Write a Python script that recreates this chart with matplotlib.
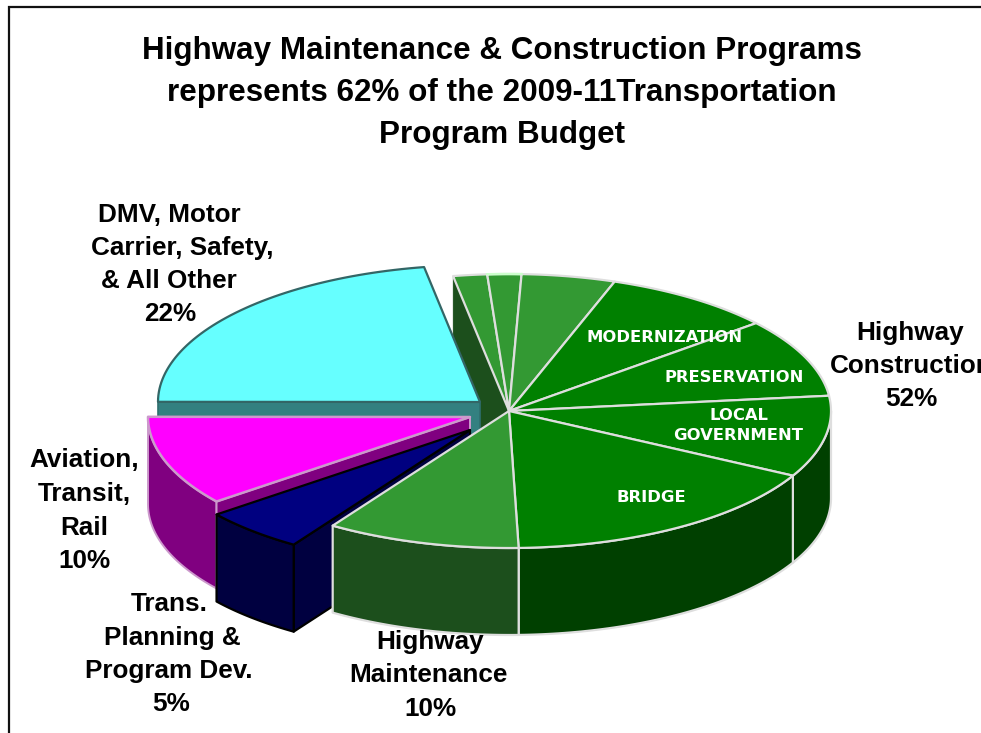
import numpy as np
import matplotlib
matplotlib.use("Agg")
import matplotlib.pyplot as plt
from matplotlib.patches import Polygon

plt.rcParams["font.family"] = ["Liberation Sans", "DejaVu Sans"]

# slice shares in percent, clockwise from the top left of the green group
slice_names = ["Other A", "Other B", "Other C", "Modernization", "Preservation", "Local Government",
               "Bridge", "Highway Maintenance", "Trans. Planning", "Aviation", "DMV"]
slice_values = [1.7, 1.7, 4.7, 8.6, 9.3, 9.6, 16.7, 9.7, 5.2, 10.6, 22.2]
title_lines = ["Highway Maintenance & Construction Programs",
               "represents 62% of the 2009-11Transportation",
               "Program Budget"]

START = 100.0
RX, RY, DEPTH = 322, 137, 87
CENTERS = {"main": (509, 411), "DMV": (480, 402), "Aviation": (470, 417), "Trans. Planning": (470, 430)}

DARK_EDGE = "#dedede"
TOP = {"Other A": "#339933", "Other B": "#339933", "Other C": "#339933", "Highway Maintenance": "#339933",
       "Modernization": "#008000", "Preservation": "#008000", "Local Government": "#008000", "Bridge": "#008000"}
SIDE = {"Highway Maintenance": "#1c4f1c", "Bridge": "#004000", "Local Government": "#004000"}

angles = START - np.cumsum([0] + slice_values) * 3.6
spans = {n: (angles[i], angles[i + 1]) for i, n in enumerate(slice_names)}


def arc(center, t0, t1, drop=0, n=60):
    t = np.radians(np.linspace(t0, t1, n))
    return np.c_[center[0] + RX * np.cos(t), center[1] - RY * np.sin(t) + drop]


def wedge(center, t0, t1):
    return np.vstack([[center], arc(center, t0, t1)])


def side(center, t0, t1):
    return np.vstack([arc(center, t0, t1), arc(center, t1, t0, DEPTH)])


def face(center, t):
    rim = arc(center, t, t, n=1)[0]
    return [center, rim, rim + [0, DEPTH], (center[0], center[1] + DEPTH)]


fig = plt.figure(figsize=(9.81, 7.33), dpi=100)
ax = fig.add_axes([0, 0, 1, 1])
ax.set(xlim=(0, 981), ylim=(733, 0))
ax.axis("off")


def poly(points, color, edge=None, lw=1.6):
    ax.add_patch(Polygon(points, closed=True, facecolor=color, edgecolor=edge or color,
                         linewidth=lw if edge else 0.3, joinstyle="round"))


ax.plot([9, 9, 981], [733, 7, 7], color="#111111", lw=1.6, solid_joinstyle="miter")

# back cut face of the main pie, hidden partly by the cyan slice
poly(face(CENTERS["main"], START), "#1c4f1c")

# DMV slice
c = CENTERS["DMV"]
t0, t1 = spans["DMV"]
poly(face(c, t0), "#338080", "#2f6f6f", 1.2)
poly(wedge(c, t0, t1), "#66ffff", "#336666", 1.6)

# Aviation slice
c = CENTERS["Aviation"]
t0, t1 = spans["Aviation"]
poly(side(c, t0, t1), "#800080", "#cc99cc", 1.4)
poly(face(c, t0), "#800080", "#cc99cc", 1.4)
poly(wedge(c, t0, t1), "#ff00ff", "#cc99cc", 1.8)

# Trans. planning slice
c = CENTERS["Trans. Planning"]
t0, t1 = spans["Trans. Planning"]
poly(face(c, t0), "#000040", "black", 1.6)
poly(side(c, t0, t1), "#000040", "black", 1.6)
poly(wedge(c, t0, t1), "#000080", "black", 1.6)

# main pie
c = CENTERS["main"]
poly(side(c, 0, spans["Local Government"][1]), SIDE["Local Government"], DARK_EDGE, 1.6)
poly(side(c, *spans["Bridge"]), SIDE["Bridge"], DARK_EDGE, 1.6)
poly(side(c, *spans["Highway Maintenance"]), SIDE["Highway Maintenance"], DARK_EDGE, 1.6)
for name in slice_names[:8]:
    poly(wedge(c, *spans[name]), TOP[name], DARK_EDGE, 1.6)
b = arc(c, *spans["Other B"])
ax.plot(b[:, 0], b[:, 1], color="#ccffcc", lw=1.8)

for line, y in zip(title_lines, [51, 93, 135]):
    ax.text(502, y, line, ha="center", va="center", fontsize=22.6, fontweight="bold")

labels = [("DMV, Motor", 169, 215), ("Carrier, Safety,", 182, 248), ("& All Other", 169, 281), ("22%", 170, 314),
          ("Aviation,", 84, 460), ("Transit,", 84, 494), ("Rail", 84, 528), ("10%", 85, 561),
          ("Trans.", 169, 604), ("Planning &", 172, 638), ("Program Dev.", 169, 671), ("5%", 171, 704),
          ("Highway", 430, 642), ("Maintenance", 428, 675), ("10%", 431, 709),
          ("Highway", 910, 333), ("Construction", 911, 366), ("52%", 911, 399)]
for line, x, y in labels:
    ax.text(x, y, line, ha="center", va="center", fontsize=18.8, fontweight="bold", color="black", clip_on=False)

inner = [("MODERNIZATION", 665, 338), ("PRESERVATION", 734, 378), ("LOCAL", 739, 415),
         ("GOVERNMENT", 738, 435), ("BRIDGE", 651, 498)]
for line, x, y in inner:
    ax.text(x, y, line, ha="center", va="center", fontsize=11.8, fontweight="bold", color="white",
            family="DejaVu Sans")

fig.savefig("out.png", dpi=100)
